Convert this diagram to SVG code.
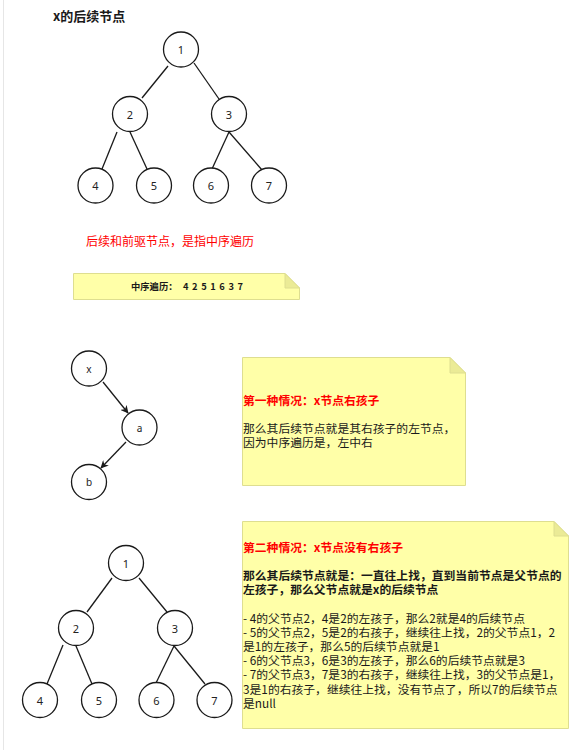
<svg xmlns="http://www.w3.org/2000/svg" width="584" height="750" viewBox="0 0 584 750">
<style>
.n circle{fill:#fff;stroke:#1a1a1a;stroke-width:1.3}
.n text{font-family:"Segoe UI","Noto Sans","Liberation Sans",sans-serif;font-size:11px;fill:#222;text-anchor:middle;dominant-baseline:central}
.e{stroke:#1a1a1a;stroke-width:1.3;fill:none}
.t{font-family:"Noto Sans CJK SC","Liberation Sans",sans-serif;font-size:11.8px;fill:#1a1a1a}
.b{font-weight:bold}
.red{fill:#ff0000}
.note{fill:#ffffa8;stroke:#dede90;stroke-width:1}
.fold{fill:#ebeb96;stroke:#dede90;stroke-width:1}
</style>
<defs>
<marker id="arr" viewBox="0 0 10 10" refX="9" refY="5" markerWidth="8" markerHeight="8" orient="auto" markerUnits="userSpaceOnUse">
<path d="M0,0 L10,5 L0,10 L3,5 Z" fill="#1a1a1a"/>
</marker>
</defs>
<rect x="0" y="0" width="584" height="750" fill="#fff"/>
<line x1="3.5" y1="0" x2="3.5" y2="750" stroke="#e6e6e6" stroke-width="1"/>

<text id="title" class="t b" x="53" y="20.5" style="font-size:13px">x的后续节点</text>

<g id="connectors">
<line class="e" x1="168" y1="66" x2="142" y2="98"/>
<line class="e" x1="194" y1="63" x2="219" y2="99"/>
<line class="e" x1="117" y1="132" x2="102" y2="169"/>
<line class="e" x1="130" y1="132" x2="147" y2="169"/>
<line class="e" x1="229" y1="132" x2="212" y2="169"/>
<line class="e" x1="229" y1="132" x2="262" y2="170"/>
<line class="e" x1="103" y1="382" x2="128" y2="413" marker-end="url(#arr)"/>
<line class="e" x1="126" y1="442" x2="101" y2="468" marker-end="url(#arr)"/>
<line class="e" x1="112" y1="578" x2="87" y2="612"/>
<line class="e" x1="139" y1="578" x2="167" y2="612"/>
<line class="e" x1="63" y1="645" x2="47" y2="684"/>
<line class="e" x1="76" y1="646" x2="92" y2="684"/>
<line class="e" x1="174" y1="646" x2="156" y2="683"/>
<line class="e" x1="174" y1="646" x2="205" y2="684"/>
</g>

<g id="t1" class="n"><circle cx="181" cy="49.5" r="17.5"/><text x="181" y="49.5">1</text></g>
<g id="t2" class="n"><circle cx="130" cy="114" r="17.5"/><text x="130" y="114">2</text></g>
<g id="t3" class="n"><circle cx="229" cy="114" r="17.5"/><text x="229" y="114">3</text></g>
<g id="t4" class="n"><circle cx="95.5" cy="185.5" r="17.5"/><text x="95.5" y="185.5">4</text></g>
<g id="t5" class="n"><circle cx="154" cy="185.5" r="17.5"/><text x="154" y="185.5">5</text></g>
<g id="t6" class="n"><circle cx="211" cy="185.5" r="17.5"/><text x="211" y="185.5">6</text></g>
<g id="t7" class="n"><circle cx="269" cy="185.5" r="17.5"/><text x="269" y="185.5">7</text></g>

<text id="redtext" class="t red" x="86" y="245.5" style="font-size:12px">后续和前驱节点，是指中序遍历</text>

<g id="note1">
<path class="note" d="M73.5,273.5 H285 L299.5,288 V299.5 H73.5 Z"/>
<path class="fold" d="M285,273.5 V288 H299.5 Z"/>
<text class="t b" x="131" y="290" style="font-size:9.3px" xml:space="preserve">中序遍历：<tspan x="183" textLength="60" lengthAdjust="spacing">4 2 5 1 6 3 7</tspan></text>
</g>

<g id="nx" class="n"><circle cx="89" cy="368.5" r="17.5"/><text x="89" y="368.5" style="font-size:10px">x</text></g>
<g id="na" class="n"><circle cx="139.5" cy="427.5" r="17.5"/><text x="139.5" y="427.5" style="font-size:10px">a</text></g>
<g id="nb" class="n"><circle cx="89" cy="482" r="17.5"/><text x="89" y="482" style="font-size:10px">b</text></g>

<g id="note2">
<path class="note" d="M242.5,357.5 H450 L465.5,373 V485.5 H242.5 Z"/>
<path class="fold" d="M450,357.5 V373 H465.5 Z"/>
<text class="t b red" x="243" y="404.5">第一种情况：x节点右孩子</text>
<text class="t" x="243" y="432.5">那么其后续节点就是其右孩子的左节点，<tspan x="243" dy="14.2">因为中序遍历是，左中右</tspan></text>
</g>

<g id="b1" class="n"><circle cx="126" cy="563" r="17.5"/><text x="126" y="563">1</text></g>
<g id="b2" class="n"><circle cx="76" cy="628" r="17.5"/><text x="76" y="628">2</text></g>
<g id="b3" class="n"><circle cx="175" cy="628" r="17.5"/><text x="175" y="628">3</text></g>
<g id="b4" class="n"><circle cx="40" cy="700" r="17.5"/><text x="40" y="700">4</text></g>
<g id="b5" class="n"><circle cx="99" cy="700" r="17.5"/><text x="99" y="700">5</text></g>
<g id="b6" class="n"><circle cx="156.5" cy="700" r="17.5"/><text x="156.5" y="700">6</text></g>
<g id="b7" class="n"><circle cx="214.5" cy="700" r="17.5"/><text x="214.5" y="700">7</text></g>

<g id="note3">
<path class="note" d="M242.5,521.5 H554 L568.5,536 V728.5 H242.5 Z"/>
<path class="fold" d="M554,521.5 V536 H568.5 Z"/>
<text class="t b red" x="243" y="551.5">第二种情况：x节点没有右孩子</text>
<text class="t b" x="243" y="580.2">那么其后续节点就是：一直往上找，直到当前节点是父节点的<tspan x="243" dy="14.2">左孩子，那么父节点就是x的后续节点</tspan></text>
<text class="t" x="243" y="622.6">- 4的父节点2，4是2的左孩子，那么2就是4的后续节点<tspan x="243" dy="14.2">- 5的父节点2，5是2的右孩子，继续往上找，2的父节点1，2</tspan><tspan x="243" dy="14.2">是1的左孩子，那么5的后续节点就是1</tspan><tspan x="243" dy="14.2">- 6的父节点3，6是3的左孩子，那么6的后续节点就是3</tspan><tspan x="243" dy="14.2">- 7的父节点3，7是3的右孩子，继续往上找，3的父节点是1，</tspan><tspan x="243" dy="14.2">3是1的右孩子，继续往上找，没有节点了，所以7的后续节点</tspan><tspan x="243" dy="14.2">是null</tspan></text>
</g>
</svg>
